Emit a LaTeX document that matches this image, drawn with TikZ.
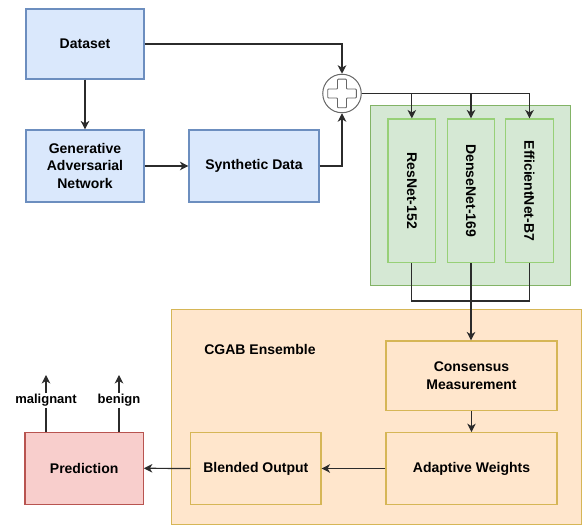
\documentclass[tikz,border=0pt]{standalone}
\usepackage{fontspec}
\setmainfont{Liberation Sans}
\usetikzlibrary{arrows.meta}
\definecolor{bluefill}{HTML}{DAE8FC}
\definecolor{bluedraw}{HTML}{6C8EBF}
\definecolor{greenfill}{HTML}{D5E8D4}
\definecolor{greendraw}{HTML}{82B366}
\definecolor{greeninner}{HTML}{97D077}
\definecolor{orangefill}{HTML}{FFE6CC}
\definecolor{orangedraw}{HTML}{D6B656}
\definecolor{redfill}{HTML}{F8CECC}
\definecolor{reddraw}{HTML}{B85450}
\definecolor{linecol}{HTML}{2B2B2B}
\tikzset{
  box/.style={rectangle, inner sep=0pt, align=center, line width=1.1pt,
    font=\fontsize{14}{17.5}\selectfont\bfseries},
  bluebox/.style={box, fill=bluefill, draw=bluedraw},
  grnbox/.style={box, fill=greenfill, draw=greeninner},
  orbox/.style={box, fill=orangefill, draw=orangedraw},
  redbox/.style={box, fill=redfill, draw=reddraw},
  arr/.style={draw=linecol, line width=1.2pt, -{Stealth[length=8.5pt,width=8.5pt,inset=2.5pt]}},
  ln/.style={draw=linecol, line width=1.2pt},
  lbl/.style={fill=white, inner sep=1.5pt, font=\fontsize{13}{15}\selectfont\bfseries}
}
\begin{document}
\begin{tikzpicture}[x=1pt, y=-1pt]
\useasboundingbox (0,0) rectangle (582,526);
% groups
\node[rectangle, fill=greenfill, draw=greendraw, line width=1pt, minimum width=200pt, minimum height=180.3pt, inner sep=0pt] (grp) at (470.7,195.85) {};
\node[rectangle, fill=orangefill, draw=orangedraw, line width=1pt, minimum width=410pt, minimum height=215pt, inner sep=0pt] (ens) at (376,417.5) {};
\node[font=\fontsize{14}{17}\selectfont\bfseries] (enslbl) at (260,349) {CGAB Ensemble};
% top boxes
\node[bluebox, minimum width=118pt, minimum height=70pt] (ds) at (85,44) {Dataset};
\node[bluebox, minimum width=118pt, minimum height=72pt] (gan) at (85,166) {Generative\\Adversarial\\Network};
\node[bluebox, minimum width=130pt, minimum height=72pt] (syn) at (254,166) {Synthetic Data};
% plus
\node[circle, draw=black!60, fill=white, line width=1pt, minimum size=38.5pt, inner sep=0pt] (plus) at (342,93.5) {};
\begin{scope}[shift={(plus.center)}]
\draw[black!60, line width=0.9pt, fill=white, rounded corners=0.8pt] (-4.5,-14.3) -- (4.5,-14.3) -- (4.5,-4.5) -- (14.3,-4.5) -- (14.3,4.5) -- (4.5,4.5) -- (4.5,14.3) -- (-4.5,14.3) -- (-4.5,4.5) -- (-14.3,4.5) -- (-14.3,-4.5) -- (-4.5,-4.5) -- cycle;
\end{scope}
% models
\node[grnbox, minimum width=47.7pt, minimum height=143.7pt] (res) at (411.85,190.85) {\rotatebox{-90}{ResNet-152}};
\node[grnbox, minimum width=46.6pt, minimum height=143.7pt] (den) at (471,190.85) {\rotatebox{-90}{DenseNet-169}};
\node[grnbox, minimum width=47.6pt, minimum height=143.7pt] (eff) at (529.5,190.85) {\rotatebox{-90}{EfficientNet-B7}};
% ensemble boxes
\node[orbox, minimum width=171pt, minimum height=69.7pt] (cons) at (471.5,375.85) {Consensus\\Measurement};
\node[orbox, minimum width=171pt, minimum height=71.6pt] (adw) at (471.5,468.5) {Adaptive Weights};
\node[orbox, minimum width=130.3pt, minimum height=71.6pt] (bld) at (255.85,468.5) {Blended Output};
\node[redbox, minimum width=118.3pt, minimum height=72pt] (pred) at (84.15,468.3) {Prediction};
% connectors
\draw[arr] (ds.south) -- (gan.north);
\draw[arr] (gan.east) -- (syn.west);
\draw[arr] (ds.east) -| (plus.north);
\draw[arr] (syn.east) -| (plus.south);
\draw[arr] (plus.east) -| (res.north);
\draw[arr] (plus.east) -| (den.north);
\draw[arr] (plus.east) -| (eff.north);
\coordinate (jn) at (471,301);
\draw[ln] (res.south) |- (jn);
\draw[ln] (eff.south) |- (jn);
\draw[arr] (den.south) -- (cons.north -| den.south);
\draw[arr] (cons.south) -- (adw.north);
\draw[arr] (adw.west) -- (bld.east);
\draw[arr] (bld.west) -- (pred.east);
\coordinate (mt) at (46,375);
\coordinate (bt) at (119,375);
\draw[arr] (pred.north -| mt) -- node[lbl, pos=0.55] (mal) {malignant} (mt);
\draw[arr] (pred.north -| bt) -- node[lbl, pos=0.55] (ben) {benign} (bt);
\end{tikzpicture}
\end{document}
